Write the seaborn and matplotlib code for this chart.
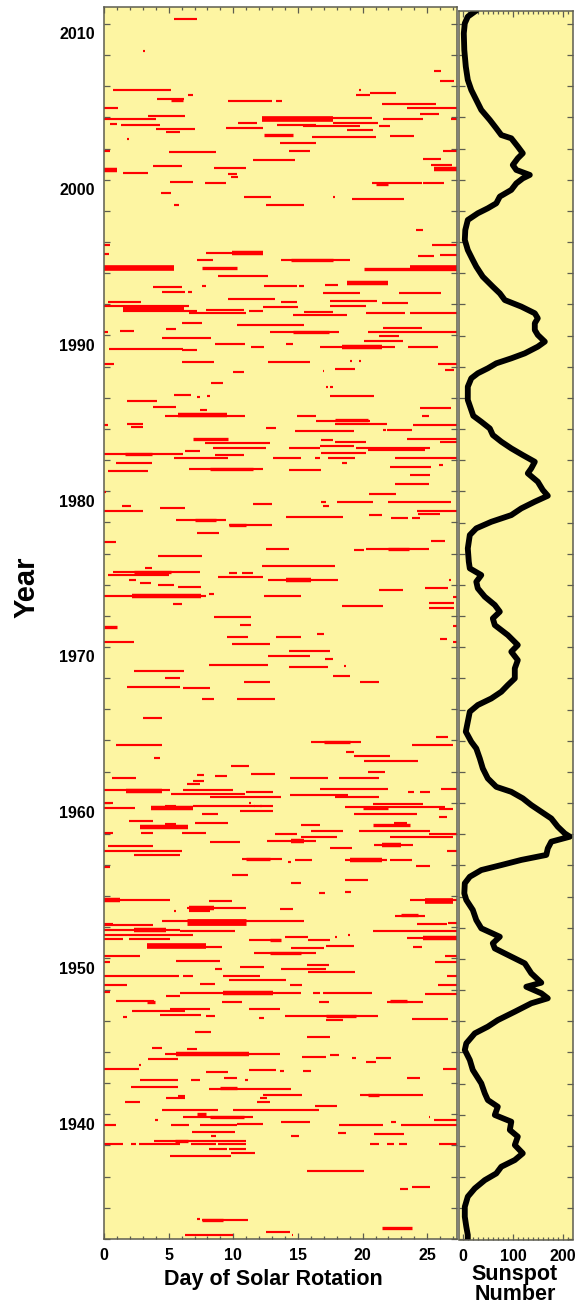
import numpy as np
import pandas as pd
import matplotlib
matplotlib.use("Agg")
import matplotlib.pyplot as plt
import matplotlib.transforms as mtransforms
from matplotlib.ticker import MultipleLocator, FixedLocator
import seaborn as sns

sns.set_style("ticks")
plt.rcParams["font.family"] = ["Liberation Sans", "DejaVu Sans"]
plt.rcParams["font.weight"] = "bold"
plt.rcParams["text.color"] = "black"
plt.rcParams["xtick.labelcolor"] = "black"
plt.rcParams["ytick.labelcolor"] = "black"

# ---------------- data ----------------
# streams: (year, start day, end day, number of consecutive rotations)
streams_1985_2011 = [
    (2010.30, 5.4, 7.2, 1), (2008.27, 3.0, 3.15, 1), (2007.00, 25.5, 26.1, 1), (2006.32, 26.0, 27.1, 1),
    (2005.74, 0.7, 5.2, 1), (2005.21, 4.1, 6.2, 1), (2005.15, 5.2, 6.1, 2), (2005.44, 6.5, 6.9, 1),
    (2005.08, 9.6, 13.0, 1), (2005.08, 13.3, 13.8, 1), (2005.74, 19.7, 19.9, 1), (2005.44, 19.5, 20.6, 1),
    (2005.55, 20.6, 22.6, 1), (2004.89, 21.5, 25.7, 1), (2004.61, 23.4, 27.3, 1), (2004.61, 0.0, 1.1, 1),
    (2004.20, 24.4, 25.9, 1), (2003.92, 0.0, 4.0, 1), (2004.07, 3.4, 6.3, 1), (2003.56, 0.5, 1.0, 1),
    (2003.50, 1.3, 4.3, 1), (2003.28, 4.0, 7.0, 1), (2003.09, 4.8, 5.9, 1), (2002.64, 1.75, 1.9, 1),
    (2003.95, 12.2, 20.7, 1), (2003.90, 12.2, 17.7, 4), (2003.35, 9.4, 12.3, 1), (2003.67, 10.4, 11.8, 1),
    (2003.52, 13.4, 16.4, 1), (2003.45, 15.4, 19.8, 1), (2003.65, 17.7, 21.2, 1), (2003.20, 18.8, 20.8, 1),
    (2003.45, 21.3, 22.1, 1), (2003.92, 21.6, 24.7, 1), (2003.92, 26.8, 27.3, 1), (2002.88, 12.4, 14.6, 2),
    (2002.77, 16.1, 21.0, 1), (2002.81, 22.1, 24.0, 1), (2002.34, 13.6, 16.4, 1), (2001.76, 5.0, 8.7, 1),
    (2001.85, 0.0, 0.5, 1), (2001.87, 14.3, 15.9, 1), (2001.25, 11.5, 14.8, 1), (2001.85, 26.2, 27.3, 1),
    (2001.31, 24.7, 26.1, 1), (2000.97, 25.3, 26.9, 1), (2000.67, 25.5, 27.3, 3), (2000.61, 0.0, 1.0, 3),
    (2000.46, 1.5, 3.4, 1), (2000.91, 3.8, 6.0, 1), (2000.74, 8.5, 11.0, 1), (2000.35, 9.6, 10.3, 1),
    (2000.16, 9.8, 10.4, 1), (1999.86, 5.1, 6.9, 1), (1999.77, 7.8, 9.4, 1), (1999.77, 20.7, 24.6, 1),
    (1999.79, 24.7, 26.3, 1), (1999.72, 21.0, 22.0, 2), (1999.17, 4.4, 5.2, 1), (1998.36, 5.4, 5.8, 1),
    (1998.87, 10.8, 12.9, 1), (1998.36, 12.5, 15.5, 1), (1998.87, 17.7, 17.9, 1), (1998.75, 19.2, 23.2, 1),
    (1996.76, 24.1, 24.7, 1), (1995.84, 0.0, 0.5, 1), (1995.84, 25.4, 27.3, 1), (1995.22, 0.0, 0.4, 1),
    (1995.11, 24.3, 25.5, 1), (1995.19, 26.0, 27.3, 1), (1995.32, 7.9, 12.3, 1), (1995.27, 9.9, 12.3, 3),
    (1994.85, 7.2, 8.4, 1), (1994.85, 13.7, 19.0, 1), (1994.83, 14.5, 17.7, 2), (1994.32, 0.0, 5.4, 4),
    (1994.30, 7.6, 10.3, 2), (1993.83, 8.8, 12.7, 1), (1994.25, 20.1, 27.3, 2), (1994.30, 23.7, 27.3, 4),
    (1993.10, 3.8, 6.0, 1), (1992.76, 4.5, 6.3, 1), (1992.76, 6.5, 6.8, 1), (1993.19, 7.6, 7.9, 1),
    (1993.19, 12.4, 14.9, 1), (1993.19, 15.1, 15.5, 1), (1993.23, 17.1, 18.1, 1), (1993.36, 18.8, 22.0, 3),
    (1992.73, 16.9, 19.8, 1), (1992.71, 22.8, 26.1, 1), (1992.37, 9.6, 13.2, 1), (1992.16, 0.3, 2.9, 1),
    (1991.88, 0.0, 6.6, 1), (1991.70, 1.5, 6.2, 4), (1991.54, 1.5, 7.2, 1), (1991.43, 6.6, 11.0, 1),
    (1991.64, 7.9, 10.8, 1), (1991.56, 11.2, 12.3, 1), (1991.81, 12.3, 15.0, 1), (1992.16, 13.7, 14.9, 1),
    (1992.22, 17.5, 21.1, 1), (1991.34, 14.6, 18.8, 1), (1991.52, 15.5, 17.7, 1), (1991.92, 17.5, 20.3, 1),
    (1991.43, 20.3, 23.3, 1), (1992.11, 21.5, 23.5, 1), (1991.43, 23.7, 27.3, 1), (1990.23, 0.0, 0.3, 1),
    (1990.30, 1.2, 2.3, 1), (1990.83, 6.0, 7.6, 1), (1990.40, 4.8, 5.6, 1), (1990.66, 10.3, 15.5, 1),
    (1990.23, 12.8, 18.2, 1), (1990.20, 14.6, 17.4, 2), (1989.85, 4.5, 8.3, 1), (1989.10, 0.4, 6.1, 1),
    (1989.08, 6.0, 7.2, 1), (1989.48, 8.6, 10.9, 1), (1989.25, 11.4, 12.4, 1), (1989.48, 14.1, 14.6, 1),
    (1989.29, 16.7, 22.5, 1), (1989.27, 18.4, 21.5, 3), (1989.65, 20.1, 23.1, 1), (1989.98, 21.3, 22.8, 1),
    (1989.29, 23.5, 25.8, 1), (1990.47, 21.6, 24.6, 1), (1990.23, 20.4, 27.3, 1), (1988.16, 0.0, 0.8, 1),
    (1988.28, 6.0, 8.5, 1), (1988.28, 12.7, 15.9, 1), (1987.68, 10.0, 10.8, 1), (1988.38, 19.0, 19.15, 1),
    (1988.38, 19.7, 19.9, 1), (1987.86, 17.9, 19.4, 1), (1987.75, 16.9, 17.0, 1), (1988.16, 25.8, 27.3, 1),
    (1987.79, 26.4, 27.1, 1), (1986.94, 8.3, 9.2, 1), (1986.70, 17.2, 17.3, 1), (1986.70, 17.5, 17.7, 1),
    (1986.12, 17.5, 20.9, 1), (1986.19, 5.4, 6.7, 1), (1986.02, 7.2, 7.4, 1), (1986.11, 8.0, 8.2, 1),
    (1985.80, 1.8, 4.1, 1), (1985.40, 3.8, 5.6, 1), (1985.21, 7.4, 8.0, 1), (1984.86, 4.7, 10.9, 1),
    (1984.88, 5.7, 9.5, 3), (1985.33, 24.4, 26.8, 1), (1984.80, 14.9, 16.4, 1), (1984.86, 24.6, 25.1, 1),
]

streams_1958_1985 = [
    (1984.51, 16.4, 20.6, 1), (1984.55, 17.9, 20.4, 2), (1984.30, 17.9, 21.9, 1), (1984.26, 0.0, 0.3, 1),
    (1984.30, 1.8, 3.0, 1), (1984.13, 2.1, 3.0, 1), (1984.04, 12.5, 13.3, 1), (1983.87, 14.8, 19.3, 1),
    (1983.94, 21.9, 23.8, 1), (1983.94, 21.6, 21.8, 1), (1984.26, 23.9, 27.3, 1), (1983.36, 6.9, 9.6, 2),
    (1983.12, 7.8, 12.8, 1), (1983.30, 16.8, 17.7, 1), (1983.19, 17.9, 20.3, 1), (1983.36, 23.4, 27.3, 1),
    (1983.19, 26.0, 27.3, 1), (1982.76, 8.4, 12.5, 1), (1982.76, 14.3, 16.7, 1), (1982.93, 16.7, 19.3, 1),
    (1982.76, 19.5, 25.2, 1), (1982.65, 20.4, 24.8, 1), (1982.38, 0.0, 6.1, 1), (1982.40, 1.6, 3.7, 2),
    (1982.57, 6.3, 7.4, 1), (1982.16, 5.4, 9.6, 1), (1982.31, 8.6, 10.8, 1), (1982.16, 13.1, 15.2, 1),
    (1982.16, 16.3, 16.7, 1), (1982.16, 17.3, 19.4, 1), (1982.46, 16.8, 20.3, 1), (1982.16, 22.5, 27.3, 1),
    (1981.84, 0.9, 3.7, 1), (1981.33, 0.3, 3.4, 1), (1981.41, 6.6, 12.3, 1), (1981.41, 8.2, 11.5, 2),
    (1981.39, 14.3, 16.8, 1), (1981.82, 18.4, 18.8, 1), (1981.58, 22.1, 25.3, 1), (1981.67, 25.9, 26.2, 1),
    (1981.01, 23.7, 25.2, 1), (1980.49, 22.5, 25.1, 1), (1979.81, 20.5, 22.6, 1), (1979.98, 0.0, 0.15, 1),
    (1979.02, 1.4, 2.1, 1), (1978.74, 0.0, 3.0, 1), (1978.93, 4.3, 6.3, 1), (1979.17, 11.5, 13.0, 1),
    (1979.34, 16.8, 17.2, 1), (1979.08, 16.9, 17.4, 1), (1979.29, 18.0, 20.8, 1), (1979.29, 22.0, 26.8, 1),
    (1978.70, 24.2, 27.3, 1), (1978.53, 24.3, 26.0, 1), (1978.16, 5.6, 9.4, 1), (1978.14, 7.0, 8.7, 2),
    (1977.30, 7.2, 8.9, 1), (1977.80, 9.7, 13.0, 1), (1977.80, 9.7, 11.0, 2), (1978.35, 14.1, 18.5, 1),
    (1978.48, 20.5, 21.5, 1), (1978.27, 22.2, 23.5, 1), (1978.27, 23.8, 24.4, 1), (1976.75, 0.0, 0.9, 1),
    (1976.81, 25.3, 26.4, 1), (1976.26, 12.5, 14.3, 1), (1976.24, 19.3, 20.1, 1), (1976.26, 20.3, 25.1, 1),
    (1976.30, 22.0, 23.6, 2), (1975.83, 4.2, 7.6, 1), (1974.84, 0.7, 7.4, 1), (1974.82, 2.3, 5.2, 2),
    (1974.63, 0.3, 5.0, 1), (1975.06, 3.2, 3.7, 1), (1974.31, 1.9, 2.5, 1), (1974.52, 8.8, 12.3, 1),
    (1974.78, 9.7, 10.3, 1), (1974.78, 10.7, 11.5, 1), (1975.23, 12.2, 17.9, 1), (1974.27, 12.7, 18.1, 1),
    (1974.33, 14.1, 16.0, 3), (1974.10, 2.8, 3.6, 1), (1973.99, 4.2, 5.4, 1), (1973.82, 5.7, 7.5, 1),
    (1973.28, 0.0, 7.9, 1), (1973.28, 2.2, 7.5, 3), (1973.43, 8.1, 8.5, 1), (1972.75, 5.3, 6.0, 1),
    (1973.28, 12.4, 15.2, 1), (1974.33, 26.7, 26.8, 1), (1973.67, 21.3, 23.1, 1), (1973.78, 24.8, 26.6, 1),
    (1973.24, 27.0, 27.3, 1), (1972.85, 25.1, 27.1, 1), (1972.53, 25.1, 27.1, 1), (1972.62, 18.4, 21.6, 1),
    (1971.93, 8.5, 11.4, 1), (1971.29, 0.0, 1.0, 2), (1971.40, 10.5, 11.4, 1), (1971.34, 27.0, 27.3, 1),
    (1970.67, 9.5, 11.1, 1), (1970.35, 0.0, 2.3, 1), (1970.20, 9.9, 12.8, 1), (1970.61, 13.3, 15.2, 1),
    (1970.82, 16.5, 17.0, 1), (1970.54, 26.0, 26.5, 1), (1970.35, 27.0, 27.3, 1), (1969.77, 14.3, 17.5, 1),
    (1969.41, 12.7, 15.9, 1), (1969.24, 17.1, 17.7, 1), (1968.85, 8.1, 12.7, 1), (1968.70, 14.3, 17.3, 1),
    (1968.81, 18.55, 18.7, 1), (1968.13, 17.7, 19.0, 1), (1968.45, 2.3, 6.2, 1), (1968.02, 4.7, 5.9, 1),
    (1967.40, 1.8, 5.9, 1), (1967.36, 6.1, 8.2, 1), (1967.74, 10.8, 12.8, 1), (1967.74, 19.8, 21.3, 1),
    (1966.69, 7.6, 8.5, 1), (1966.69, 10.3, 13.2, 1), (1965.47, 3.0, 4.5, 1), (1963.89, 16.0, 19.9, 1),
    (1963.87, 17.0, 19.0, 2), (1964.21, 25.7, 26.6, 1), (1963.72, 23.8, 27.0, 1), (1963.72, 0.9, 4.5, 1),
    (1963.25, 18.7, 19.3, 1), (1963.00, 19.3, 22.1, 1), (1962.71, 20.1, 24.3, 1), (1962.84, 3.9, 4.3, 1),
    (1962.33, 9.8, 11.2, 1), (1961.84, 11.4, 13.2, 1), (1961.97, 20.4, 21.7, 1), (1961.62, 0.6, 2.5, 1),
    (1961.77, 7.2, 7.7, 1), (1961.73, 8.6, 9.5, 1), (1961.56, 14.4, 17.3, 1), (1961.58, 18.2, 21.3, 1),
    (1960.81, 0.0, 5.1, 1), (1960.78, 1.7, 4.5, 3), (1960.83, 6.1, 10.0, 1), (1961.37, 6.9, 7.7, 1),
    (1961.20, 6.4, 7.4, 1), (1960.58, 5.2, 10.9, 1), (1960.34, 8.2, 13.7, 1), (1960.66, 11.0, 13.1, 1),
    (1960.51, 14.4, 18.9, 1), (1960.90, 16.7, 22.0, 1), (1960.40, 17.9, 21.3, 1), (1960.66, 23.5, 24.0, 1),
    (1960.66, 24.4, 25.2, 1), (1960.87, 26.1, 27.3, 1), (1959.98, 0.0, 0.7, 1), (1959.63, 0.0, 2.4, 1),
    (1959.63, 3.6, 6.9, 3), (1959.81, 4.7, 5.6, 1), (1959.76, 6.9, 13.1, 1), (1959.29, 7.6, 8.8, 1),
    (1959.44, 10.5, 13.1, 1), (1959.98, 11.2, 11.35, 1), (1959.76, 11.6, 11.7, 1), (1959.76, 12.1, 12.2, 1),
    (1959.70, 18.6, 26.4, 1), (1959.68, 20.0, 22.0, 2), (1959.91, 20.8, 24.7, 1), (1959.27, 19.3, 24.2, 1),
    (1959.61, 25.9, 27.0, 1), (1959.06, 25.9, 26.5, 1), (1958.82, 1.9, 3.8, 1), (1958.46, 2.8, 6.5, 3),
    (1958.71, 7.0, 9.6, 1), (1958.65, 4.7, 5.6, 1), (1958.05, 6.0, 7.9, 1), (1958.55, 15.2, 16.7, 1),
    (1958.20, 16.0, 17.7, 1), (1958.55, 20.8, 23.7, 2), (1958.70, 22.4, 23.4, 1), (1958.20, 17.7, 18.5, 1),
    (1958.05, 0.0, 0.7, 1), (1958.05, 2.9, 3.8, 1),
]

streams_1932_1958 = [
    (1957.97, 13.2, 14.9, 1), (1957.80, 15.2, 18.0, 1), (1957.56, 12.6, 16.4, 1), (1957.56, 14.5, 15.5, 3),
    (1957.09, 17.5, 19.2, 1), (1958.20, 19.7, 25.2, 1), (1957.80, 22.1, 27.0, 1), (1957.97, 25.1, 27.3, 1),
    (1957.29, 20.9, 23.9, 1), (1957.29, 21.5, 23.0, 3), (1957.50, 8.2, 10.5, 1), (1957.24, 0.3, 3.8, 1),
    (1956.92, 0.0, 6.0, 1), (1956.67, 2.3, 5.9, 1), (1956.39, 10.7, 13.8, 1), (1956.39, 11.0, 12.8, 2),
    (1956.17, 14.25, 14.5, 1), (1956.35, 14.8, 16.1, 1), (1956.30, 18.6, 21.9, 1), (1956.30, 19.0, 21.5, 3),
    (1956.30, 22.1, 23.8, 1), (1955.92, 24.1, 25.2, 1), (1956.92, 26.5, 27.3, 1), (1955.87, 0.0, 0.5, 1),
    (1955.38, 9.9, 11.1, 1), (1954.85, 14.5, 15.2, 1), (1955.06, 18.6, 20.4, 1), (1954.20, 16.6, 17.1, 1),
    (1954.27, 18.6, 19.1, 1), (1953.76, 0.0, 5.1, 1), (1953.76, 0.0, 1.2, 3), (1953.71, 8.1, 9.9, 1),
    (1953.05, 5.4, 5.6, 1), (1953.24, 6.4, 11.0, 1), (1953.26, 6.6, 8.5, 3), (1953.06, 6.6, 8.2, 1),
    (1953.20, 13.6, 14.6, 1), (1953.78, 23.7, 27.3, 1), (1953.67, 24.8, 27.0, 4), (1952.75, 22.5, 24.8, 1),
    (1952.80, 23.0, 24.3, 2), (1952.24, 0.0, 0.7, 1), (1952.13, 0.0, 3.8, 1), (1952.39, 4.5, 15.5, 1),
    (1952.37, 6.4, 11.0, 5), (1951.85, 0.0, 5.9, 1), (1951.85, 2.3, 4.8, 3), (1951.79, 5.9, 10.1, 1),
    (1951.53, 0.0, 6.9, 1), (1951.79, 20.8, 27.3, 1), (1952.24, 24.2, 26.5, 1), (1952.29, 26.6, 27.3, 1),
    (1951.27, 0.0, 1.5, 1), (1951.27, 1.9, 5.1, 1), (1950.82, 3.3, 7.9, 4), (1950.76, 7.9, 9.1, 1),
    (1951.21, 11.2, 13.7, 1), (1951.21, 12.8, 13.7, 2), (1951.36, 14.0, 15.8, 1), (1951.21, 15.8, 17.5, 1),
    (1950.65, 14.5, 17.0, 1), (1950.35, 11.6, 16.4, 1), (1950.35, 12.8, 15.2, 2), (1950.78, 17.2, 19.3, 1),
    (1951.36, 17.9, 18.0, 1), (1951.53, 18.9, 19.0, 1), (1951.32, 23.4, 27.3, 1), (1951.30, 24.7, 27.3, 3),
    (1950.76, 23.9, 24.6, 1), (1950.18, 0.0, 2.8, 1), (1949.78, 0.0, 0.5, 1), (1949.84, 5.6, 9.0, 1),
    (1950.18, 26.4, 27.3, 1), (1949.80, 25.6, 27.3, 1), (1949.46, 10.5, 12.4, 1), (1949.33, 8.6, 9.1, 1),
    (1949.33, 13.7, 17.2, 1), (1949.60, 15.7, 17.4, 1), (1949.11, 15.8, 19.4, 1), (1948.90, 0.0, 5.8, 1),
    (1948.90, 6.1, 6.9, 1), (1948.86, 9.2, 12.1, 1), (1948.64, 9.7, 14.1, 1), (1948.28, 0.0, 1.8, 1),
    (1948.39, 7.4, 8.6, 1), (1948.28, 14.4, 15.3, 1), (1948.28, 25.8, 27.3, 1), (1948.90, 26.5, 27.3, 1),
    (1947.83, 0.0, 0.5, 1), (1947.77, 5.9, 13.9, 1), (1947.77, 9.2, 13.1, 3), (1947.62, 4.8, 5.9, 1),
    (1947.77, 13.9, 15.2, 1), (1947.77, 16.2, 16.7, 1), (1947.77, 16.9, 20.7, 1), (1947.72, 24.8, 27.3, 1),
    (1947.27, 0.9, 3.9, 1), (1946.61, 2.2, 6.3, 1), (1947.23, 3.3, 3.95, 2), (1946.78, 5.1, 8.2, 1),
    (1946.40, 4.3, 7.5, 1), (1947.23, 9.1, 10.7, 1), (1946.78, 11.2, 13.6, 1), (1947.23, 16.6, 17.4, 1),
    (1947.21, 21.9, 24.7, 1), (1947.30, 22.1, 23.4, 2), (1946.29, 14.0, 21.2, 1), (1946.31, 17.2, 19.5, 2),
    (1946.03, 17.2, 18.5, 1), (1946.25, 1.5, 1.75, 1), (1946.29, 7.9, 8.6, 1), (1946.18, 12.0, 12.4, 1),
    (1946.14, 23.8, 26.6, 1), (1945.28, 7.0, 8.3, 1), (1944.96, 15.7, 17.5, 1), (1944.26, 3.7, 4.5, 1),
    (1944.22, 6.4, 7.2, 1), (1943.89, 4.7, 13.6, 1), (1943.89, 5.6, 11.2, 3), (1943.55, 3.4, 5.7, 1),
    (1943.14, 2.7, 2.85, 1), (1942.91, 0.0, 2.7, 1), (1943.66, 15.3, 17.2, 1), (1943.81, 17.5, 18.2, 1),
    (1943.62, 19.2, 19.5, 1), (1943.34, 20.3, 21.0, 1), (1943.62, 21.0, 22.2, 1), (1942.93, 26.2, 27.3, 1),
    (1942.72, 7.9, 9.6, 1), (1942.84, 11.2, 13.3, 1), (1942.78, 13.6, 13.9, 1), (1942.78, 15.4, 16.0, 1),
    (1942.22, 2.8, 5.7, 1), (1942.22, 6.7, 7.4, 1), (1942.33, 9.3, 10.3, 1), (1942.22, 10.9, 11.1, 1),
    (1942.33, 23.4, 24.4, 1), (1941.73, 2.1, 5.7, 1), (1941.65, 8.1, 14.5, 1), (1941.67, 9.0, 10.3, 2),
    (1941.05, 4.8, 6.3, 1), (1941.20, 5.7, 6.3, 1), (1941.22, 12.3, 15.3, 1), (1941.05, 12.1, 12.6, 1),
    (1940.81, 1.6, 2.8, 1), (1940.81, 11.8, 12.8, 1), (1941.22, 19.8, 24.7, 1), (1941.24, 20.4, 21.3, 2),
    (1940.51, 16.3, 18.0, 1), (1940.30, 4.5, 8.8, 1), (1940.30, 10.0, 16.6, 1), (1940.04, 7.2, 7.9, 2),
    (1939.81, 6.1, 11.5, 1), (1939.81, 8.2, 10.8, 2), (1939.60, 3.95, 4.2, 1), (1939.31, 0.0, 0.9, 1),
    (1939.31, 5.2, 6.6, 1), (1939.31, 7.4, 10.3, 1), (1939.35, 10.3, 12.3, 1), (1939.53, 13.7, 15.9, 1),
    (1939.31, 18.2, 21.6, 1), (1939.48, 22.2, 22.6, 1), (1939.31, 23.0, 27.3, 1), (1939.83, 25.1, 25.2, 1),
    (1939.66, 25.5, 27.3, 1), (1938.84, 6.8, 10.1, 1), (1938.63, 8.3, 8.7, 1), (1938.82, 18.1, 18.7, 1),
    (1938.63, 14.5, 15.1, 1), (1938.74, 20.9, 23.2, 1), (1938.27, 3.9, 11.0, 1), (1938.30, 5.5, 6.5, 2),
    (1938.09, 0.0, 1.5, 1), (1938.09, 2.1, 2.5, 1), (1938.09, 2.7, 5.9, 1), (1938.09, 6.7, 8.7, 1),
    (1938.09, 8.8, 11.0, 1), (1937.79, 8.1, 9.5, 1), (1937.77, 9.7, 11.0, 1), (1937.35, 5.1, 9.8, 1),
    (1937.48, 9.8, 11.7, 1), (1938.11, 20.6, 21.3, 1), (1938.11, 21.9, 22.4, 1), (1938.11, 22.8, 23.4, 1),
    (1938.09, 25.9, 27.3, 1), (1936.34, 15.7, 20.1, 1), (1935.23, 22.9, 23.5, 1), (1935.30, 23.8, 25.2, 1),
    (1933.28, 7.2, 7.4, 1), (1933.20, 7.6, 11.1, 1), (1933.20, 7.6, 9.2, 2), (1932.70, 21.5, 23.8, 2),
    (1932.25, 6.3, 10.0, 1), (1932.45, 12.5, 14.4, 1), (1932.24, 14.55, 14.65, 1),
]

# sunspot number curve
ssn_year = [
    2010.86, 2010.47, 2010.04, 2009.40, 2008.33, 2007.26, 2006.41, 2005.76, 2005.12, 2004.48,
    2003.84, 2003.30, 2002.87, 2002.66, 2002.13, 2001.70, 2001.38, 2000.95, 2000.63, 2000.31,
    2000.09, 1999.77, 1999.35, 1998.92, 1998.49, 1998.17, 1997.85, 1997.42, 1996.78, 1996.14,
    1995.49, 1994.85, 1994.42, 1993.78, 1993.14, 1992.71, 1992.28, 1991.86, 1991.43, 1991.11,
    1990.79, 1990.36, 1990.04, 1989.61, 1989.29, 1988.86, 1988.54, 1988.22, 1987.90, 1987.58,
    1987.26, 1986.72, 1985.87, 1985.22, 1984.85, 1984.47, 1984.04, 1983.62, 1983.19, 1982.76,
    1982.33, 1981.90, 1981.48, 1981.16, 1980.62, 1980.09, 1979.72, 1979.34, 1978.91, 1978.48,
    1978.05, 1977.63, 1977.20, 1976.34, 1975.49, 1975.06, 1974.63, 1974.20, 1973.78, 1973.24,
    1972.71, 1972.28, 1971.85, 1971.42, 1970.78, 1970.14, 1969.71, 1969.17, 1968.64, 1968.00,
    1967.57, 1967.14, 1966.71, 1966.29, 1965.86, 1965.22, 1964.58, 1963.93, 1963.50, 1962.86,
    1962.22, 1961.58, 1961.04, 1960.72, 1960.30, 1959.87, 1959.44, 1959.01, 1958.48, 1958.05,
    1957.84, 1957.52, 1957.09, 1956.67, 1956.35, 1956.02, 1955.70, 1955.27, 1954.85, 1954.20,
    1953.78, 1953.14, 1952.49, 1951.96, 1951.42, 1951.00, 1950.67, 1950.14, 1949.71, 1949.07,
    1948.47, 1948.21, 1947.79, 1947.47, 1947.15, 1946.61, 1946.07, 1945.65, 1945.22, 1944.58,
    1944.15, 1943.51, 1942.87, 1942.01, 1941.37, 1940.94, 1940.51, 1939.98, 1939.55, 1939.02,
    1938.59, 1938.05, 1937.52, 1937.09, 1936.66, 1936.23, 1935.80, 1935.27, 1934.74, 1934.09,
    1933.45, 1932.81, 1932.28, 1932.00,
]
ssn_value = [
    26, 9, 3, 1, 2, 5, 9, 16, 26, 36,
    53, 66, 76, 96, 109, 119, 109, 99, 106, 133,
    119, 106, 96, 73, 66, 49, 29, 9, 4, 3,
    9, 19, 26, 39, 59, 73, 83, 116, 143, 149,
    143, 143, 149, 163, 149, 123, 96, 66, 49, 29,
    16, 9, 9, 16, 20, 36, 53, 59, 76, 96,
    119, 143, 136, 129, 149, 159, 169, 143, 116, 96,
    56, 26, 13, 9, 11, 13, 36, 26, 29, 43,
    63, 73, 59, 63, 89, 109, 96, 109, 103, 103,
    89, 76, 56, 29, 13, 9, 5, 16, 26, 33,
    39, 49, 66, 96, 119, 136, 156, 176, 189, 203,
    213, 176, 169, 166, 116, 76, 36, 13, 3, 2,
    6, 19, 26, 36, 73, 59, 63, 96, 123, 136,
    156, 126, 156, 169, 136, 103, 69, 49, 23, 6,
    3, 13, 19, 36, 43, 49, 69, 63, 96, 93,
    109, 103, 119, 103, 76, 66, 43, 23, 9, 3,
    3, 6, 9, 9,
]

year_ticks = [1940, 1950, 1960, 1970, 1980, 1990, 2000, 2010]
day_ticks = [0, 5, 10, 15, 20, 25]
ssn_ticks = [0, 100, 200]

# ---------------- figure ----------------
streams = pd.DataFrame(streams_1985_2011 + streams_1958_1985 + streams_1932_1958,
                       columns=["year", "day0", "day1", "rows"])
sunspots = pd.DataFrame({"year": ssn_year, "ssn": ssn_value})

W, H = 576, 1306
fig = plt.figure(figsize=(W / 100, H / 100), dpi=100)
fig.patch.set_facecolor("white")
bg = "#fdf5a2"
frame = "#5d5d50"

ax1 = fig.add_axes([104 / W, 1 - 1239 / H, 353 / W, (1239 - 7.3) / H])
ax2 = fig.add_axes([459.3 / W, 1 - 1239.5 / H, 113.7 / W, (1239.5 - 10.7) / H])

for ax in (ax1, ax2):
    ax.set_facecolor(bg)
    for sp in ax.spines.values():
        sp.set_color(frame)
        sp.set_linewidth(1.1)

# red streams
lw = (streams["rows"] * 1.16 + 1.0) * 0.72
ax1.hlines(streams["year"], streams["day0"], streams["day1"], colors="#ff0000",
           linewidths=lw)
ax1.set_xlim(0, 27.3)
ax1.set_ylim(1931.99, 2011.07)

# sunspot curve
sns.lineplot(data=sunspots, x="ssn", y="year", orient="y", estimator=None,
             color="black", linewidth=4.2, ax=ax2, solid_joinstyle="round",
             solid_capstyle="round")
ax2.set_xlim(-8, 219.4)
ax2.set_ylim(1931.99, 2010.85)
ax2.set_xlabel("")
ax2.set_ylabel("")

# ticks
ax1.xaxis.set_major_locator(FixedLocator(day_ticks))
ax1.xaxis.set_minor_locator(MultipleLocator(1))
ax1.yaxis.set_major_locator(FixedLocator(year_ticks))
ax1.yaxis.set_minor_locator(MultipleLocator(2))
ax1.tick_params(axis="both", which="both", direction="in", top=True, right=True,
                color=frame, width=0.9, labelsize=11.5, pad=6.5, labelcolor="black")
ax1.tick_params(axis="x", which="major", length=4.5)
ax1.tick_params(axis="x", which="minor", length=2.5)
ax1.tick_params(axis="y", which="major", length=4.3)
ax1.tick_params(axis="y", which="minor", length=4.3)
ax1.set_xticks(day_ticks)
ax1.set_xticklabels([str(d) for d in day_ticks], fontweight="bold")
ax1.set_yticks(year_ticks)
ax1.set_yticklabels([str(y) for y in year_ticks], fontweight="bold")
offset = mtransforms.ScaledTranslation(0, -0.095, fig.dpi_scale_trans)
for lab in ax1.get_yticklabels():
    lab.set_transform(lab.get_transform() + offset)

ax2.xaxis.set_major_locator(FixedLocator(ssn_ticks))
ax2.xaxis.set_minor_locator(MultipleLocator(10))
ax2.yaxis.set_major_locator(MultipleLocator(2))
ax2.tick_params(axis="both", which="both", direction="in", top=True, right=True, left=True,
                color=frame, width=0.9, labelsize=11.5, pad=6.5, labelcolor="black")
ax2.tick_params(axis="x", which="major", length=4.5)
ax2.tick_params(axis="x", which="minor", length=2.5)
ax2.tick_params(axis="y", which="major", length=4.3, labelleft=False)
ax2.set_xticks(ssn_ticks)
ax2.set_xticklabels([str(s) for s in ssn_ticks], fontweight="bold")

# titles
fig.text(27 / W, 1 - 587 / H, "Year", rotation=90, fontsize=21, fontweight="bold",
         ha="center", va="center", color="black")
fig.text(273 / W, 1 - 1280 / H, "Day of Solar Rotation", fontsize=15.5, fontweight="bold",
         ha="center", va="center", color="black")
fig.text(515 / W, 1 - 1284.5 / H, "Sunspot\nNumber", fontsize=15.5, fontweight="bold",
         ha="center", va="center", linespacing=0.95, color="black")

fig.savefig("out.png", dpi=100, facecolor="white")
